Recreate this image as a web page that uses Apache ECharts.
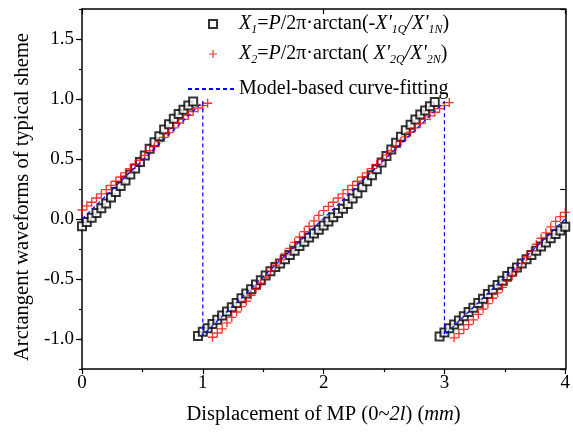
<!DOCTYPE html>
<html>
<head>
<meta charset="utf-8">
<script src="https://cdn.jsdelivr.net/npm/echarts@6/dist/echarts.min.js"></script>
<style>
  html, body { margin: 0; padding: 0; background: #fff; }
  #chart { width: 573px; height: 432px; }
</style>
</head>
<body>
<div id="chart"></div>
<script>
// displacement samples (mm)
const xs = [0,0.04,0.08,0.12,0.16,0.2,0.24,0.28,0.32,0.36,0.4,0.44,0.48,0.52,0.56,0.6,0.64,0.68,0.72,0.76,0.8,0.84,0.88,0.92,0.96,
  1,1.04,1.08,1.12,1.16,1.2,1.24,1.28,1.32,1.36,1.4,1.44,1.48,1.52,1.56,1.6,1.64,1.68,1.72,1.76,1.8,1.84,1.88,1.92,1.96,
  2,2.04,2.08,2.12,2.16,2.2,2.24,2.28,2.32,2.36,2.4,2.44,2.48,2.52,2.56,2.6,2.64,2.68,2.72,2.76,2.8,2.84,2.88,2.92,2.96,
  3,3.04,3.08,3.12,3.16,3.2,3.24,3.28,3.32,3.36,3.4,3.44,3.48,3.52,3.56,3.6,3.64,3.68,3.72,3.76,3.8,3.84,3.88,3.92,3.96,4]

// X1 = P/2pi*arctan(-X'1Q/X'1N)
const x1 = [-0.06,-0.025,0.01,0.05,0.09,0.13,0.18,0.225,0.275,0.32,0.37,0.42,0.475,0.53,0.585,0.64,0.69,0.745,0.79,0.835,0.875,0.91,0.945,0.98,
  -0.975,-0.94,-0.91,-0.875,-0.84,-0.805,-0.77,-0.735,-0.7,-0.66,-0.62,-0.585,-0.545,-0.51,-0.47,-0.435,-0.4,-0.37,-0.335,-0.3,-0.265,-0.225,-0.19,-0.155,-0.12,-0.09,
  -0.055,-0.02,0.015,0.05,0.085,0.125,0.17,0.215,0.265,0.315,0.365,0.415,0.47,0.525,0.58,0.635,0.685,0.74,0.785,0.83,0.87,0.905,0.94,0.975,
  -0.98,-0.945,-0.91,-0.88,-0.845,-0.81,-0.775,-0.74,-0.7,-0.665,-0.625,-0.59,-0.55,-0.515,-0.475,-0.44,-0.405,-0.37,-0.335,-0.3,-0.265,-0.23,-0.195,-0.16,-0.125,-0.095,-0.065]

// X2 = P/2pi*arctan(X'2Q/X'2N)
const x2 = [0.075,0.11,0.14,0.175,0.21,0.245,0.28,0.315,0.35,0.385,0.42,0.455,0.49,0.53,0.57,0.605,0.645,0.68,0.72,0.76,0.8,0.83,0.865,0.895,0.925,0.945,0.965,
  -0.985,-0.95,-0.915,-0.865,-0.82,-0.775,-0.73,-0.685,-0.635,-0.585,-0.535,-0.485,-0.435,-0.385,-0.34,-0.29,-0.245,-0.195,-0.15,-0.105,-0.06,-0.015,0.03,
  0.07,0.105,0.14,0.175,0.21,0.245,0.28,0.315,0.35,0.385,0.42,0.455,0.495,0.535,0.57,0.61,0.645,0.685,0.725,0.76,0.795,0.83,0.86,0.89,0.92,0.945,0.97,
  -0.99,-0.955,-0.92,-0.88,-0.84,-0.795,-0.75,-0.705,-0.66,-0.615,-0.57,-0.52,-0.47,-0.42,-0.37,-0.315,-0.265,-0.21,-0.16,-0.115,-0.065,-0.02,0.02,0.055]

// model-based curve-fitting
const fitX = [0, 1, 1, 3, 3, 4]
const fitY = [0, 0.977, -0.967, 0.977, -0.967, 0.0]

const yMajor = [-1, -0.5, 0, 0.5, 1, 1.5]

const chartDom = document.getElementById('chart')
const myChart = echarts.init(chartDom)
const font = 'Liberation Serif, Times New Roman, serif'
const axisLine = { onZero: false, lineStyle: { color: '#000', width: 1.5 } }
const plusPath = 'path://M4.25,0 H5.75 V4.25 H10 V5.75 H5.75 V10 H4.25 V5.75 H0 V4.25 H4.25 Z'

const legendNames = {
  X1: "{i|X}{sub|1}{n|=}{i|P}{n|/2π·arctan(-}{i|X'}{sub|1Q}{i|/X'}{sub|1N}{n|)}",
  X2: "{i|X}{sub|2}{n|=}{i|P}{n|/2π·arctan( }{i|X'}{sub|2Q}{i|/X'}{sub|2N}{n|)}",
  fit: '{n|Model-based curve-fitting}'
}
const legendRich = {
  n: { fontFamily: font, fontSize: 20, color: '#000', lineHeight: 24 },
  i: { fontFamily: font, fontSize: 20, fontStyle: 'italic', color: '#000', lineHeight: 24 },
  sub: { fontFamily: font, fontSize: 12, fontStyle: 'italic', color: '#000', lineHeight: 24, verticalAlign: 'bottom', padding: [10, 0, 0, 0] }
}

let option = {
  animation: false,
  textStyle: { fontFamily: font },
  grid: { left: 82, right: 6, top: 9, bottom: 63 },
  legend: [
    {
      orient: 'vertical',
      left: 203,
      top: 9,
      itemWidth: 8,
      itemHeight: 8,
      itemGap: 8,
      data: ['X1', 'X2'],
      formatter: (name) => legendNames[name],
      textStyle: { color: '#000', padding: [0, 0, 0, 17], rich: legendRich }
    },
    {
      orient: 'vertical',
      left: 182,
      top: 74,
      itemWidth: 46,
      itemHeight: 10,
      data: [{ name: 'fit', itemStyle: { opacity: 0 } }],
      formatter: (name) => legendNames[name],
      textStyle: { color: '#000', rich: legendRich }
    }
  ],
  xAxis: [
    {
      type: 'value',
      min: 0,
      max: 4,
      interval: 1,
      name: '{n|Displacement of MP (0~}{i|2l}{n|) (}{i|mm}{n|)}',
      nameLocation: 'middle',
      nameGap: 35,
      nameTextStyle: {
        rich: {
          n: { fontFamily: font, fontSize: 20.5, color: '#000' },
          i: { fontFamily: font, fontSize: 20.5, fontStyle: 'italic', color: '#000' }
        }
      },
      axisLine: axisLine,
      axisTick: { show: true, inside: false, length: 5, lineStyle: { color: '#000', width: 1.2 } },
      minorTick: { show: true, splitNumber: 2, length: 3, lineStyle: { color: '#000', width: 1.2 } },
      splitLine: { show: false },
      axisLabel: { color: '#000', fontFamily: font, fontSize: 19, margin: 5 }
    },
    {
      type: 'value',
      position: 'top',
      min: 0,
      max: 4,
      interval: 2,
      axisLine: axisLine,
      axisTick: { show: true, inside: true, length: 5, lineStyle: { color: '#000', width: 1.2 } },
      axisLabel: { show: false },
      splitLine: { show: false }
    }
  ],
  yAxis: [
    {
      type: 'value',
      min: -1.25,
      max: 1.75,
      name: 'Arctangent waveforms of typical sheme',
      nameLocation: 'middle',
      nameGap: 43,
      nameTextStyle: { fontFamily: font, fontSize: 20.5, color: '#000', padding: [0, 16, 0, 0] },
      axisLine: axisLine,
      axisTick: { show: true, inside: false, length: 6, customValues: yMajor, lineStyle: { color: '#000', width: 1.2 } },
      axisLabel: {
        color: '#000', fontFamily: font, fontSize: 19, margin: 8,
        customValues: yMajor,
        formatter: (v) => v.toFixed(1)
      },
      splitLine: { show: false }
    },
    {
      type: 'value',
      position: 'left',
      min: -1.25,
      max: 1.75,
      interval: 0.25,
      axisLine: { show: false, onZero: false },
      axisTick: { show: true, inside: false, length: 3, lineStyle: { color: '#000', width: 1.2 } },
      axisLabel: { show: false },
      splitLine: { show: false }
    },
    {
      type: 'value',
      position: 'right',
      min: -1.25,
      max: 1.75,
      interval: 1.5,
      axisLine: axisLine,
      axisTick: { show: true, inside: true, length: 5, lineStyle: { color: '#000', width: 1.2 } },
      axisLabel: { show: false },
      splitLine: { show: false }
    }
  ],
  series: [
    {
      name: 'X1',
      type: 'scatter',
      symbol: 'emptyRect',
      symbolSize: 8,
      itemStyle: { color: '#000', borderColor: '#000', borderWidth: 1.4 },
      data: xs.map((x, i) => [x, x1[i]])
    },
    {
      name: 'X2',
      type: 'scatter',
      symbol: plusPath,
      symbolSize: 9,
      itemStyle: { color: '#ff0000' },
      data: xs.map((x, i) => [x, x2[i]])
    },
    {
      name: 'fit',
      type: 'line',
      showSymbol: false,
      symbol: 'none',
      lineStyle: { color: '#0000ff', width: 1.2, type: [4, 3] },
      itemStyle: { color: '#0000ff' },
      data: fitX.map((x, i) => [x, fitY[i]]),
      z: 5
    }
  ]
}
option && myChart.setOption(option)
window.addEventListener('resize', () => {
  myChart.resize()
})
</script>
</body>
</html>
